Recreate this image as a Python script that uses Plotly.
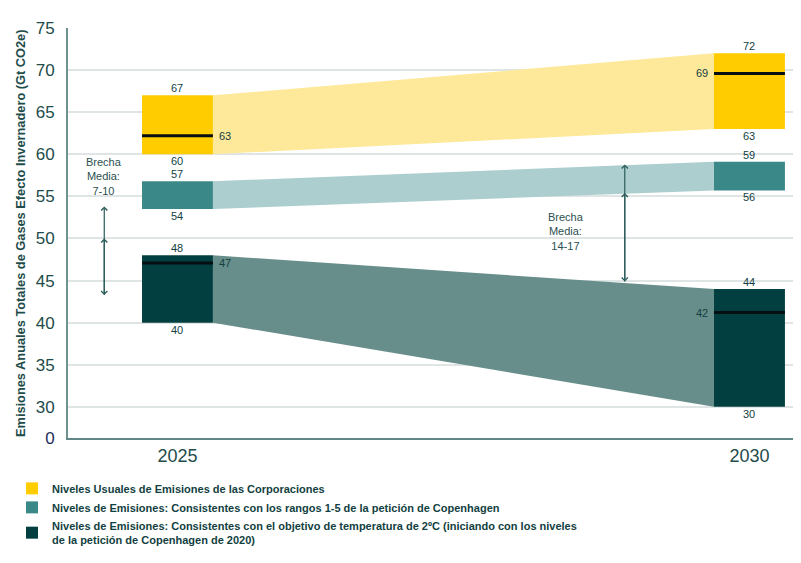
import plotly.graph_objects as go

# data
years = [2025, 2030]
usual_low = [60, 63]
usual_high = [67, 72]
usual_mid = [62.2, 69.6]
usual_mid_text = ["63", "69"]

cph_low = [53.5, 55.7]
cph_high = [56.8, 59.1]
cph_low_text = ["54", "56"]
cph_high_text = ["57", "59"]

two_deg_low = [40, 30]
two_deg_high = [48, 44]
two_deg_mid = [47.1, 41.2]
two_deg_mid_text = ["47", "42"]

gap_labels = ["Brecha<br>Media:<br>7-10", "Brecha<br>Media:<br>14-17"]
gap_x = [2024.36, 2028.91]
gap_top = [53.8, 58.8]
gap_mid = [50.0, 55.4]
gap_bottom = [43.1, 44.7]
gap_text_x = [2024.36, 2028.40]
gap_text_y = [57.4, 50.8]

names = ["Niveles Usuales de Emisiones de las Corporaciones",
         "Niveles de Emisiones: Consistentes con los rangos 1-5 de la petición de Copenhagen",
         "Niveles de Emisiones: Consistentes con el objetivo de temperatura de 2ºC (iniciando con los niveles<br>de la petición de Copenhagen de 2020)"]

bar_colors = ["#FFCC00", "#3A8887", "#023F40"]
band_colors = ["#FEE99A", "#ADCECF", "#688E8B"]
txt = "#123f3f"
half = 0.31  # half bar width in years

series = [(usual_low, usual_high), (cph_low, cph_high), (two_deg_low, two_deg_high)]

fig = go.Figure()

# connecting bands
for (lo, hi), col in zip(series, band_colors):
    fig.add_trace(go.Scatter(
        x=[years[0] + half, years[1] - half, years[1] - half, years[0] + half, years[0] + half],
        y=[hi[0], hi[1], lo[1], lo[0], hi[0]],
        fill="toself", fillcolor=col, mode="lines", line=dict(width=0),
        showlegend=False, hoverinfo="skip"))

# range bars
for (lo, hi), col, nm in zip(series, bar_colors, names):
    fig.add_trace(go.Bar(
        x=years, y=[h - l for l, h in zip(lo, hi)], base=lo, width=2 * half,
        marker=dict(color=col, line=dict(width=0)), name=nm))

# median lines
for mid in [usual_mid, two_deg_mid]:
    for x, m in zip(years, mid):
        fig.add_trace(go.Scatter(x=[x - half, x + half], y=[m, m], mode="lines",
                                 line=dict(color="#050f12", width=3),
                                 showlegend=False, hoverinfo="skip"))

ann = []
vfont = dict(family="Liberation Sans, Arial, sans-serif", size=11, color=txt)


def lab(x, y, t, pos):
    if pos == "above":
        ann.append(dict(x=x, y=y, text=t, showarrow=False, yanchor="bottom", font=vfont, yshift=-1))
    else:
        ann.append(dict(x=x, y=y, text=t, showarrow=False, yanchor="top", font=vfont, yshift=1))


for i, x in enumerate(years):
    lab(x, usual_high[i], str(usual_high[i]), "above")
    lab(x, usual_low[i], str(usual_low[i]), "below")
    lab(x, cph_high[i], cph_high_text[i], "above")
    lab(x, cph_low[i], cph_low_text[i], "below")
    lab(x, two_deg_high[i], str(two_deg_high[i]), "above")
    lab(x, two_deg_low[i], str(two_deg_low[i]), "below")

# median labels: right of the 2025 bar, left of the 2030 bar
for mid, mt in [(usual_mid, usual_mid_text), (two_deg_mid, two_deg_mid_text)]:
    ann.append(dict(x=years[0] + half, y=mid[0], text=mt[0], showarrow=False,
                    xanchor="left", xshift=4, font=vfont))
    ann.append(dict(x=years[1] - half, y=mid[1], text=mt[1], showarrow=False,
                    xanchor="right", xshift=-4, font=vfont))

# gap arrows and text
acol = "#2b5c5a"
for gx, gt, gm, gb in zip(gap_x, gap_top, gap_mid, gap_bottom):
    ann.append(dict(x=gx, y=gt, ax=gx, ay=gb, axref="x", ayref="y", text="",
                    showarrow=True, arrowhead=4, startarrowhead=4, arrowside="end+start",
                    arrowsize=1, arrowwidth=1.2, arrowcolor=acol, standoff=0, startstandoff=0))
    ann.append(dict(x=gx, y=gm, ax=gx, ay=gb, axref="x", ayref="y", text="",
                    showarrow=True, arrowhead=4, arrowside="end",
                    arrowsize=1, arrowwidth=1.2, arrowcolor=acol, standoff=0))
for tx, ty, gl in zip(gap_text_x, gap_text_y, gap_labels):
    ann.append(dict(x=tx, y=ty, text=gl, showarrow=False, yanchor="middle",
                    font=dict(family="Liberation Sans, Arial, sans-serif", size=11, color="#2b4f4f")))

# y axis title
ann.append(dict(xref="paper", yref="paper", x=-0.066, y=0.5, xanchor="center", yanchor="middle",
                text="<b>Emisiones Anuales Totales de Gases Efecto Invernadero (Gt CO2e)</b>",
                textangle=-90, showarrow=False,
                font=dict(family="Liberation Sans, Arial, sans-serif", size=12.8, color="#1e4c4a")))

ytick_vals = [26.3, 30, 35, 40, 45, 50, 55, 60, 65, 70, 75]
ytick_text = ["<span style='color:#1f2d5c'>0</span>"] + [str(v) for v in ytick_vals[1:]]

# page body keeps its 8px margin, so the figure is 8px smaller than the window
fig.update_layout(
    width=793, height=555,
    margin=dict(l=60, r=6, t=20, b=125, autoexpand=False),
    plot_bgcolor="white", paper_bgcolor="white",
    barmode="overlay", annotations=ann,
    font=dict(family="Liberation Sans, Arial, sans-serif", color=txt),
    legend=dict(x=-0.077, y=-0.0875, xanchor="left", yanchor="top",
                font=dict(family="Liberation Sans, Arial, sans-serif",
                          size=11, color="#123f3f", weight="bold"),
                itemwidth=30, tracegroupgap=0, bgcolor="rgba(0,0,0,0)"),
    xaxis=dict(range=[2024.043, 2030.398], tickvals=years, ticktext=[str(y) for y in years],
               showgrid=False, zeroline=False, showline=True, linecolor="#5f8886", linewidth=2,
               ticks="", tickfont=dict(size=18, color="#1e4c4a"), ticklabelstandoff=0),
    yaxis=dict(range=[26.3, 75], tickvals=ytick_vals, ticktext=ytick_text,
               showgrid=True, gridcolor="#dfe5e4", gridwidth=2, zeroline=False,
               showline=True, linecolor="#6f918f", linewidth=2, ticks="",
               tickfont=dict(size=17, color="#1e4c4a"), ticklabelstandoff=8),
)

fig.write_html("out.html")
